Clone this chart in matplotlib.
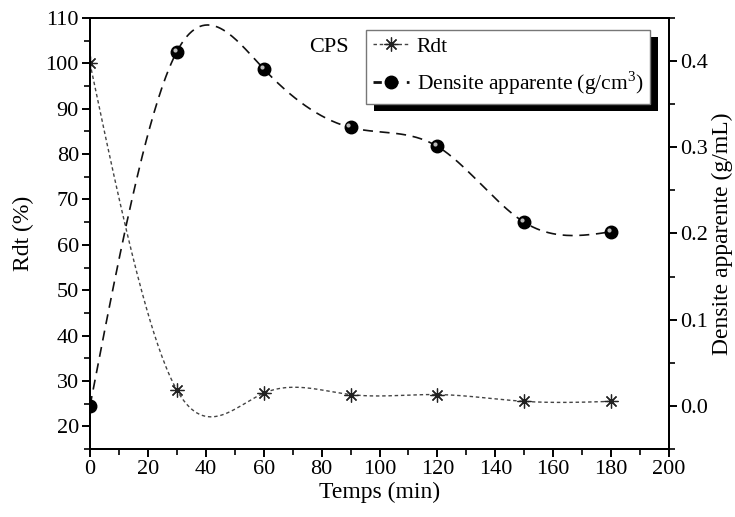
import numpy as np
import matplotlib
matplotlib.use("Agg")
import matplotlib.pyplot as plt
from matplotlib.patches import Rectangle
from matplotlib.ticker import MultipleLocator, FormatStrFormatter
from matplotlib.lines import Line2D
import matplotlib.transforms as mtransforms

plt.rcParams['font.family'] = ['Liberation Serif', 'DejaVu Serif']
plt.rcParams['mathtext.fontset'] = 'custom'
plt.rcParams['mathtext.rm'] = 'Liberation Serif'

# Data
temps = [0, 30, 60, 90, 120, 150, 180]
rdt = [100, 28.0, 27.3, 27.0, 27.0, 25.5, 25.5]
densite = [0.0, 0.411, 0.391, 0.323, 0.301, 0.213, 0.202]


def natural_spline(x, y, n=400):
    x = np.asarray(x, float)
    y = np.asarray(y, float)
    m = len(x)
    h = np.diff(x)
    A = np.zeros((m, m))
    b = np.zeros(m)
    A[0, 0] = 1
    A[-1, -1] = 1
    for i in range(1, m - 1):
        A[i, i - 1] = h[i - 1]
        A[i, i] = 2 * (h[i - 1] + h[i])
        A[i, i + 1] = h[i]
        b[i] = 6 * ((y[i + 1] - y[i]) / h[i] - (y[i] - y[i - 1]) / h[i - 1])
    M = np.linalg.solve(A, b)
    xs = np.linspace(x[0], x[-1], n)
    ys = np.empty_like(xs)
    for k, xv in enumerate(xs):
        i = min(np.searchsorted(x, xv, side='right') - 1, m - 2)
        t1 = x[i + 1] - xv
        t0 = xv - x[i]
        ys[k] = (M[i] * t1 ** 3 / (6 * h[i]) + M[i + 1] * t0 ** 3 / (6 * h[i])
                 + (y[i] / h[i] - M[i] * h[i] / 6) * t1
                 + (y[i + 1] / h[i] - M[i + 1] * h[i] / 6) * t0)
    return xs, ys


fig = plt.figure(figsize=(7.35, 5.17), dpi=100)
ax = fig.add_axes([90 / 735, 1 - 449 / 517, 579 / 735, 431 / 517])
ax2 = ax.twinx()

xs, ys = natural_spline(temps, rdt)
ax.plot(xs, ys, color='#444444', lw=1.0, ls=(0, (2.5, 2)))
ax.plot(temps, rdt, ls='none', marker=(8, 2, 0), ms=10, mec='#222222', mew=0.9)

xs2, ys2 = natural_spline(temps, densite)
ax2.plot(xs2, ys2, color='#111111', lw=1.2, ls=(0, (6, 4)))
ax2.plot(temps, densite, ls='none', marker='o', ms=9, mfc='black', mec='black')
hl = mtransforms.ScaledTranslation(-1.5 / 72, 1.5 / 72, fig.dpi_scale_trans)
ax2.plot(temps, densite, ls='none', marker='o', ms=3, mfc='#bbbbbb', mec='none',
         transform=ax2.transData + hl)

ax.set_xlim(0, 200)
ax.set_ylim(15, 110)
ax2.set_ylim(-0.05, 0.45)

ax.xaxis.set_major_locator(MultipleLocator(20))
ax.xaxis.set_minor_locator(MultipleLocator(10))
ax.yaxis.set_minor_locator(MultipleLocator(5))
ax2.yaxis.set_minor_locator(MultipleLocator(0.05))
ax.set_yticks(np.arange(20, 111, 10))
ax2.set_yticks(np.arange(0.0, 0.41, 0.1))
ax2.yaxis.set_major_formatter(FormatStrFormatter('%.1f'))

for a in (ax, ax2):
    for s in a.spines.values():
        s.set_linewidth(1.4)
    a.tick_params(which='major', direction='out', length=6, width=1.4, labelsize=16, pad=2)
    a.tick_params(which='minor', direction='out', length=4, width=1.2)

ax.set_xlabel('Temps (min)', fontsize=17, labelpad=2)
ax.set_ylabel('Rdt (%)', fontsize=17, labelpad=8)
ax2.set_ylabel('Densite apparente (g/mL)', fontsize=17, labelpad=3)

ax.text(0.378, 0.92, 'CPS', transform=ax.transAxes, fontsize=16)

h1 = Line2D([], [], color='#444444', lw=1.0, ls=(0, (2.5, 2)), marker=(8, 2, 0), ms=10,
            mec='#222222', mew=0.9)
h2 = Line2D([], [], color='#111111', lw=2, ls=(0, (3, 3)), marker='o', ms=9,
            mfc='black', mec='black')
leg = ax2.legend([h1, h2], ['Rdt', 'Densite apparente (g/cm$^3$)'], loc='upper right',
                 bbox_to_anchor=(0.967, 0.972), borderaxespad=0, fontsize=15.5, fancybox=False,
                 frameon=True, edgecolor='#777777', framealpha=1, handlelength=1.7,
                 handletextpad=0.35, labelspacing=0.6, borderpad=0.3)
leg.get_frame().set_linewidth(1.0)
leg.set_zorder(10)

fig.canvas.draw()
bb = leg.get_window_extent().transformed(fig.transFigure.inverted())
dx, dy = 8 / 735, -7 / 517
shadow = Rectangle((bb.x0 + dx, bb.y0 + dy), bb.width, bb.height, transform=fig.transFigure,
                   facecolor='black', edgecolor='none', zorder=9, clip_on=False)
ax2.add_artist(shadow)

fig.savefig('out.png', dpi=100)
